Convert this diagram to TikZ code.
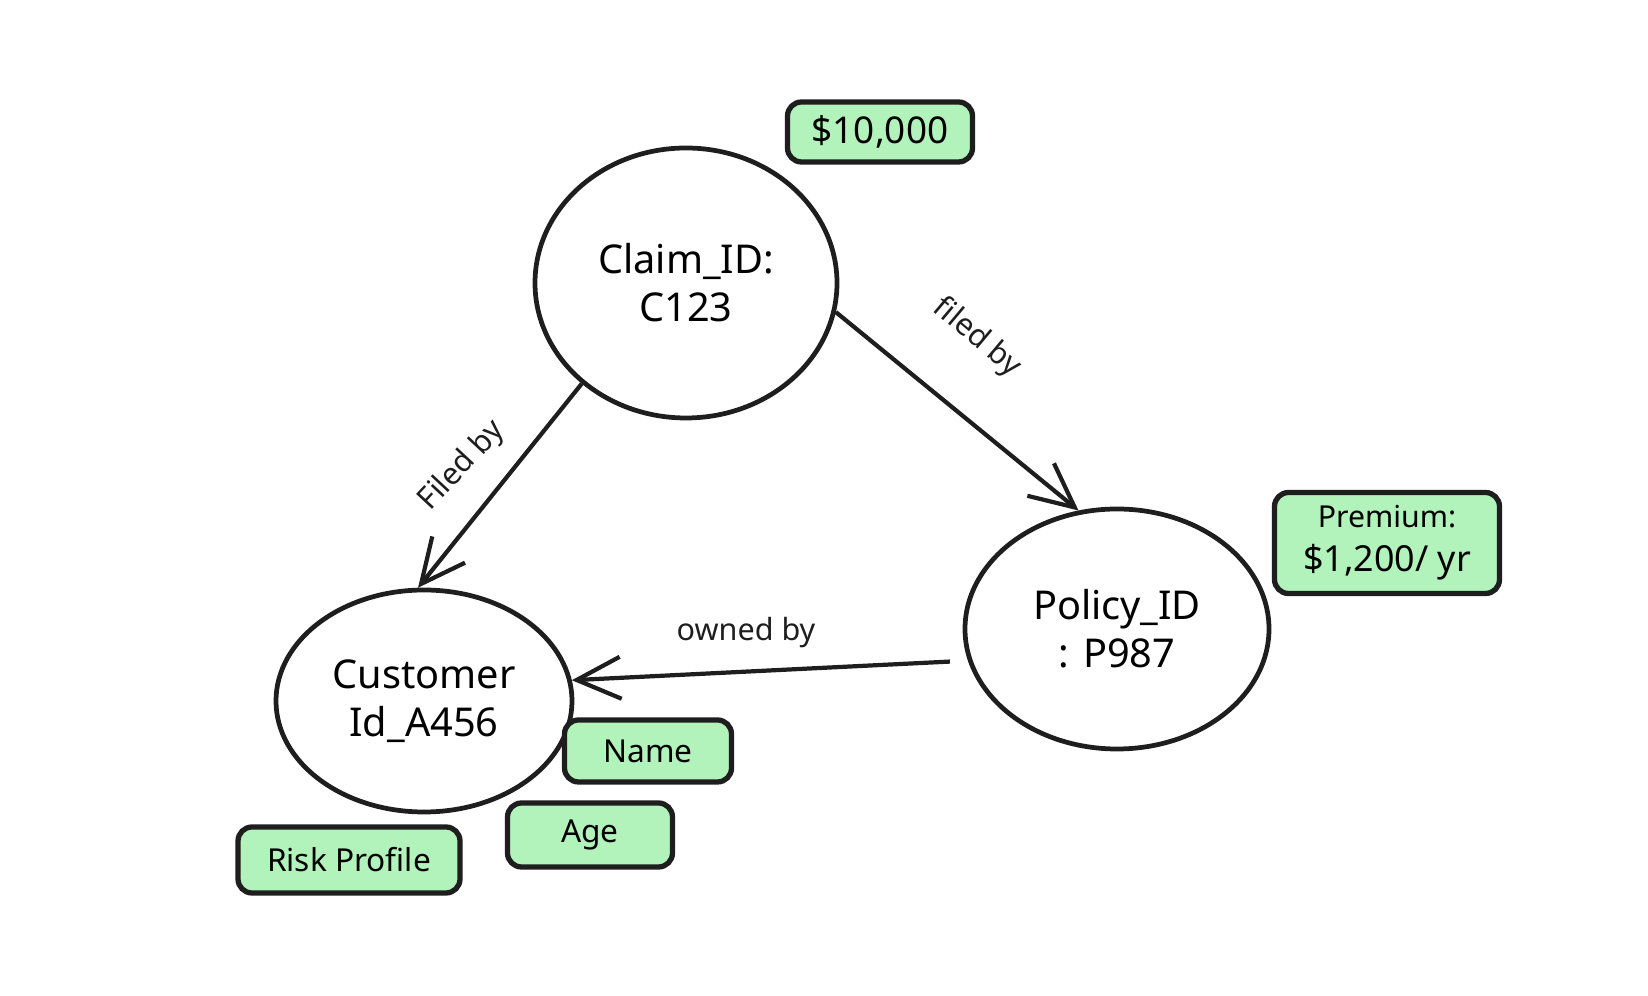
\documentclass[tikz,border=0pt]{standalone}
\usepackage{fontspec}
\setmainfont{Noto Sans}
\usetikzlibrary{shapes.geometric,arrows.meta}
\definecolor{ink}{HTML}{1E1E1E}
\definecolor{attrgreen}{HTML}{B2F2BB}

\begin{document}
\begin{tikzpicture}[
	entity/.style={shape=ellipse, draw=ink, line width=1.35pt, inner sep=0pt, align=center, font=\fontsize{11.3}{13.6}\selectfont},
	attr/.style={shape=rectangle, draw=ink, fill=attrgreen, line width=1.5pt, rounded corners=1.4mm, inner sep=0pt, align=center, font=\fontsize{9}{11.5}\selectfont},
	rel/.style={draw=ink, line width=1.2pt, -{Straight Barb[length=4.4mm, width=4.2mm, line width=1.2pt]}},
	edgelabel/.style={font=\fontsize{8.7}{10}\selectfont, text=ink}
]
	\useasboundingbox (0, 0) rectangle (16.48, 9.96);
	\node[entity, minimum width=3.02cm, minimum height=2.70cm](Claim) at (6.86, 7.13){Claim\_ID:\\C123};
	\node[entity, minimum width=2.96cm, minimum height=2.22cm](Cust) at (4.24, 2.95){Customer\\Id\_A456};
	\node[entity, minimum width=3.04cm, minimum height=2.40cm](Pol) at (11.17, 3.67){Policy\_ID\\: P987};
	\node[attr, minimum width=1.85cm, minimum height=0.60cm, font=\fontsize{10.5}{13}\selectfont](Amount) at (8.80, 8.64){\$10,000};
	\node[attr, minimum width=2.25cm, minimum height=1.01cm, font=\fontsize{8.6}{12.5}\selectfont](Premium) at (13.87, 4.53){Premium:\\\fontsize{10.2}{12.5}\selectfont\$1,200/ yr};
	\node[attr, minimum width=1.67cm, minimum height=0.62cm](Name) at (6.48, 2.45){Name};
	\node[attr, minimum width=1.65cm, minimum height=0.64cm](Age) at (5.90, 1.61){Age};
	\node[attr, minimum width=2.22cm, minimum height=0.66cm](Risk) at (3.49, 1.36){Risk Profile};
	\draw[rel] (Claim.224) -- (Cust.93);
	\draw[rel] (Claim.349) -- (Pol.108);
	\draw[rel, shorten <=1.8mm] (Pol.192) -- (Cust.8);
	\node[edgelabel, rotate=47](L1) at (4.62, 5.30){Filed by};
	\node[edgelabel, rotate=-40](L2) at (9.77, 6.58){filed by};
	\node[edgelabel](L3) at (7.46, 3.63){owned by};
\end{tikzpicture}
\end{document}
